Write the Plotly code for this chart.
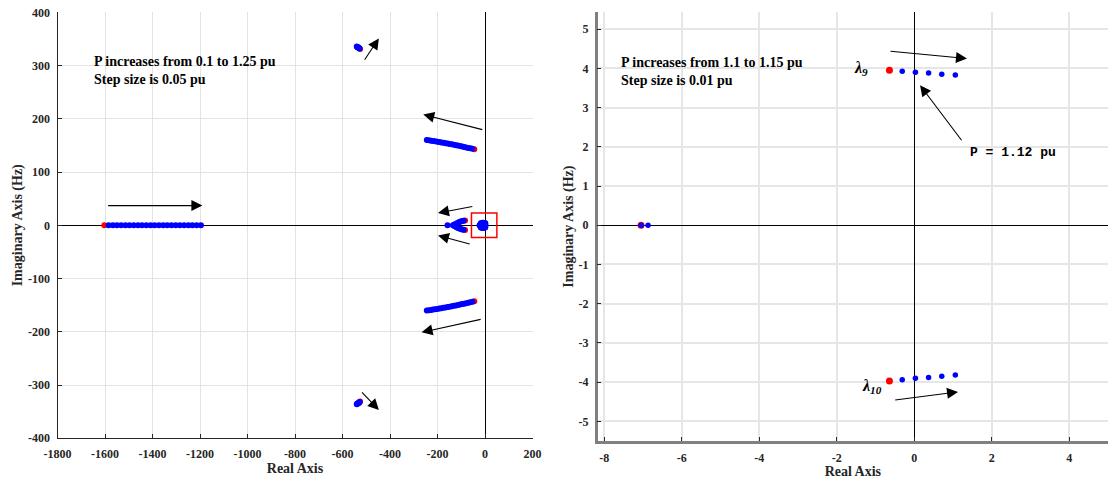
import plotly.graph_objects as go

# ---------------- Left panel: P from 0.1 to 1.25 pu (step 0.05 pu) ----------------
# Each locus lists eigenvalues in order of increasing P; the first one is the start (red).

# real-axis mode
real_mode_re = [-1603, -1585, -1567, -1550, -1532, -1514, -1497, -1479, -1461, -1444,
                -1426, -1408, -1391, -1373, -1355, -1338, -1320, -1302, -1285, -1267,
                -1249, -1232, -1214, -1196]
real_mode_im = [0, 0, 0, 0, 0, 0, 0, 0, 0, 0, 0, 0, 0, 0, 0, 0, 0, 0, 0, 0, 0, 0, 0, 0]

# high-frequency pair near 335 Hz
hf_pair_re = [-526, -528, -530, -532, -534, -536, -538, -540]
hf_pair_im = [331, 332, 333, 333.5, 334, 334.5, 335, 336]

# swinging pair around 150 Hz
arc_pair_re = [-45, -53, -62, -70, -79, -88, -96, -105, -114, -122, -131, -140,
               -149, -157, -166, -175, -184, -192, -201, -210, -219, -227, -236, -245]
arc_pair_im = [142.7, 143.6, 144.5, 145.4, 146.3, 147.2, 148.0, 148.9, 149.7, 150.5,
               151.3, 152.1, 152.8, 153.6, 154.3, 155.0, 155.7, 156.4, 157.0, 157.7,
               158.3, 158.9, 159.5, 160.0]

# pair that collapses onto the real axis near -130
y_pair_re = [-84, -90, -96, -102, -108, -114, -120, -126, -130]
y_pair_im = [9, 8.5, 8, 7, 6, 5, 3.5, 2, 1]
y_real_re = [-135, -158]
y_real_im = [0, 0]

# low-frequency modes close to the origin
low_modes_re = [-23, -18, -18, -12, -12, -6, -6, 0, 0, 2, -7, -0.6, -0.6, 1.1, 1.1, -15, -3]
low_modes_im = [0, 4, -4, 5, -5, 5, -5, 4, -4, 0, 0, 3.9, -3.9, 3.8, -3.8, 0, 0]

# ---------------- Right panel: P from 1.1 to 1.15 pu (step 0.01 pu) ----------------
r_real_re = [-7.05, -7.05, -6.87]
r_real_im = [0, 0, 0]

lam9_re = [-0.64, -0.31, 0.03, 0.37, 0.71, 1.06]
lam9_im = [3.95, 3.93, 3.90, 3.88, 3.85, 3.83]
lam10_re = [-0.64, -0.31, 0.03, 0.37, 0.71, 1.06]
lam10_im = [-3.97, -3.94, -3.90, -3.88, -3.85, -3.82]

# tick positions and labels
left_xticks = [-1800, -1600, -1400, -1200, -1000, -800, -600, -400, -200, 0, 200]
left_yticks = [-400, -300, -200, -100, 0, 100, 200, 300, 400]
right_xticks = [-8, -6, -4, -2, 0, 2, 4, 5]
right_xtext = ["-8", "-6", "-4", "-2", "0", "2", "4", ""]
right_yticks = [-5, -4, -3, -2, -1, 0, 1, 2, 3, 4, 5]

BLUE = "#0000ff"
RED = "#ff0000"
SERIF = "Liberation Serif"


def split(loci):
    """Return (start points, remaining points) for a list of (re, im) loci."""
    s_re, s_im, r_re, r_im = [], [], [], []
    for re, im in loci:
        s_re.append(re[0]); s_im.append(im[0])
        r_re.extend(re[1:]); r_im.extend(im[1:])
    return s_re, s_im, r_re, r_im


conj = lambda v: [-a for a in v]
labels = lambda v: [str(t) for t in v]   # plain hyphen for negative numbers

left_loci = [
    (real_mode_re, real_mode_im),
    (hf_pair_re, hf_pair_im), (hf_pair_re, conj(hf_pair_im)),
    (arc_pair_re, arc_pair_im), (arc_pair_re, conj(arc_pair_im)),
    (y_pair_re, y_pair_im), (y_pair_re, conj(y_pair_im)),
]
ls_re, ls_im, lr_re, lr_im = split(left_loci)
lr_re += y_real_re + low_modes_re
lr_im += y_real_im + low_modes_im

right_loci = [(r_real_re, r_real_im), (lam9_re, lam9_im), (lam10_re, lam10_im)]
rs_re, rs_im, rr_re, rr_im = split(right_loci)

fig = go.Figure()
fig.add_trace(go.Scatter(x=ls_re, y=ls_im, mode="markers", xaxis="x", yaxis="y",
                         marker=dict(color=RED, size=6), hoverinfo="skip"))
fig.add_trace(go.Scatter(x=lr_re, y=lr_im, mode="markers", xaxis="x", yaxis="y",
                         marker=dict(color=BLUE, size=6), hoverinfo="skip"))
fig.add_trace(go.Scatter(x=rs_re, y=rs_im, mode="markers", xaxis="x2", yaxis="y2",
                         marker=dict(color=RED, size=7), hoverinfo="skip"))
fig.add_trace(go.Scatter(x=rr_re, y=rr_im, mode="markers", xaxis="x2", yaxis="y2",
                         marker=dict(color=BLUE, size=5.5), hoverinfo="skip"))

tickfont = dict(family=SERIF, size=12, color="#262626", weight="bold")
titlefont = dict(family=SERIF, size=14, color="#262626", weight="bold")

common = dict(showgrid=True, zeroline=True, zerolinecolor="black", zerolinewidth=1,
              showline=True, ticks="inside", ticklen=4, tickcolor="#262626",
              tickfont=tickfont, ticklabelstandoff=4, mirror=False, automargin=False,
              tickmode="array")

fig.update_layout(
    width=1108, height=479,
    margin=dict(l=0, r=0, t=0, b=0),
    paper_bgcolor="white", plot_bgcolor="white",
    showlegend=False,
    xaxis=dict(domain=[0.0519, 0.4806], range=[-1800, 200],
               tickvals=left_xticks, ticktext=labels(left_xticks),
               gridcolor="#e3e3e3", gridwidth=1,
               linecolor="#262626", linewidth=1,
               title=dict(text="Real Axis", font=titlefont, standoff=2),
               anchor="y", **common),
    yaxis=dict(domain=[0.085, 0.9743], range=[-400, 400],
               tickvals=left_yticks, ticktext=labels(left_yticks),
               gridcolor="#e3e3e3", gridwidth=1,
               linecolor="#262626", linewidth=1,
               title=dict(text="Imaginary Axis (Hz)", font=titlefont, standoff=2),
               anchor="x", **common),
    xaxis2=dict(domain=[0.5394, 1.0], range=[-8.17, 5.0],
                tickvals=right_xticks, ticktext=right_xtext,
                gridcolor="#e6e6e6", gridwidth=1.5,
                linecolor="#808080", linewidth=2.5,
                title=dict(text="Real Axis", font=titlefont, standoff=2),
                anchor="y2", **common),
    yaxis2=dict(domain=[0.0795, 0.9743], range=[-5.5, 5.43],
                tickvals=right_yticks, ticktext=labels(right_yticks),
                gridcolor="#e6e6e6", gridwidth=1.5,
                linecolor="#808080", linewidth=2.5,
                title=dict(text="Imaginary Axis (Hz)", font=titlefont, standoff=2),
                anchor="x2", **common),
)

# zoom window around the origin
fig.add_shape(type="rect", xref="x", yref="y", x0=-57, x1=50, y0=-23, y1=23,
              line=dict(color=RED, width=1.5))


def arrow(xref, yref, tail, head, size=2.0):
    fig.add_annotation(xref=xref, yref=yref, axref=xref, ayref=yref,
                       x=head[0], y=head[1], ax=tail[0], ay=tail[1], text="",
                       showarrow=True, arrowhead=2, arrowsize=size, arrowwidth=1.1,
                       arrowcolor="black", standoff=0, startstandoff=0)


# left panel arrows
arrow("x", "y", (-1593, 37), (-1190, 37))
arrow("x", "y", (-511, 308), (-447, 351))
arrow("x", "y", (-524, -311), (-447, -347))
arrow("x", "y", (-5, 179), (-260, 208))
arrow("x", "y", (-12, -176), (-267, -201))
arrow("x", "y", (-47, 36), (-198, 23))
arrow("x", "y", (-58, -36), (-198, -19))

# right panel arrows
arrow("x2", "y2", (-0.65, 4.44), (1.36, 4.25))
arrow("x2", "y2", (1.25, 2.13), (0.15, 3.57))
arrow("x2", "y2", (-0.53, -4.46), (1.13, -4.25))

textfont = dict(family=SERIF, size=14, color="black", weight="bold")
fig.add_annotation(xref="x", yref="y", x=-1656, y=290, xanchor="left", yanchor="middle",
                   text="P increases from 0.1 to 1.25 pu<br>Step size is 0.05 pu",
                   showarrow=False, align="left", font=textfont)
fig.add_annotation(xref="x2", yref="y2", x=-7.62, y=3.93, xanchor="left", yanchor="middle",
                   text="P increases from 1.1 to 1.15 pu<br>Step size is 0.01 pu",
                   showarrow=False, align="left", font=textfont)
fig.add_annotation(xref="x2", yref="y2", x=1.38, y=1.86, xanchor="left", yanchor="middle",
                   text="P = 1.12 pu", showarrow=False,
                   font=dict(family="Liberation Mono", size=13, color="black", weight="bold"))
fig.add_annotation(xref="x2", yref="y2", x=-1.38, y=4.0, xanchor="center", yanchor="middle",
                   text="<i>λ<sub>9</sub></i>", showarrow=False,
                   font=dict(family=SERIF, size=16, color="black", weight="bold"))
fig.add_annotation(xref="x2", yref="y2", x=-1.1, y=-4.1, xanchor="center", yanchor="middle",
                   text="<i>λ<sub>10</sub></i>", showarrow=False,
                   font=dict(family=SERIF, size=16, color="black", weight="bold"))

fig.write_html("out.html")
